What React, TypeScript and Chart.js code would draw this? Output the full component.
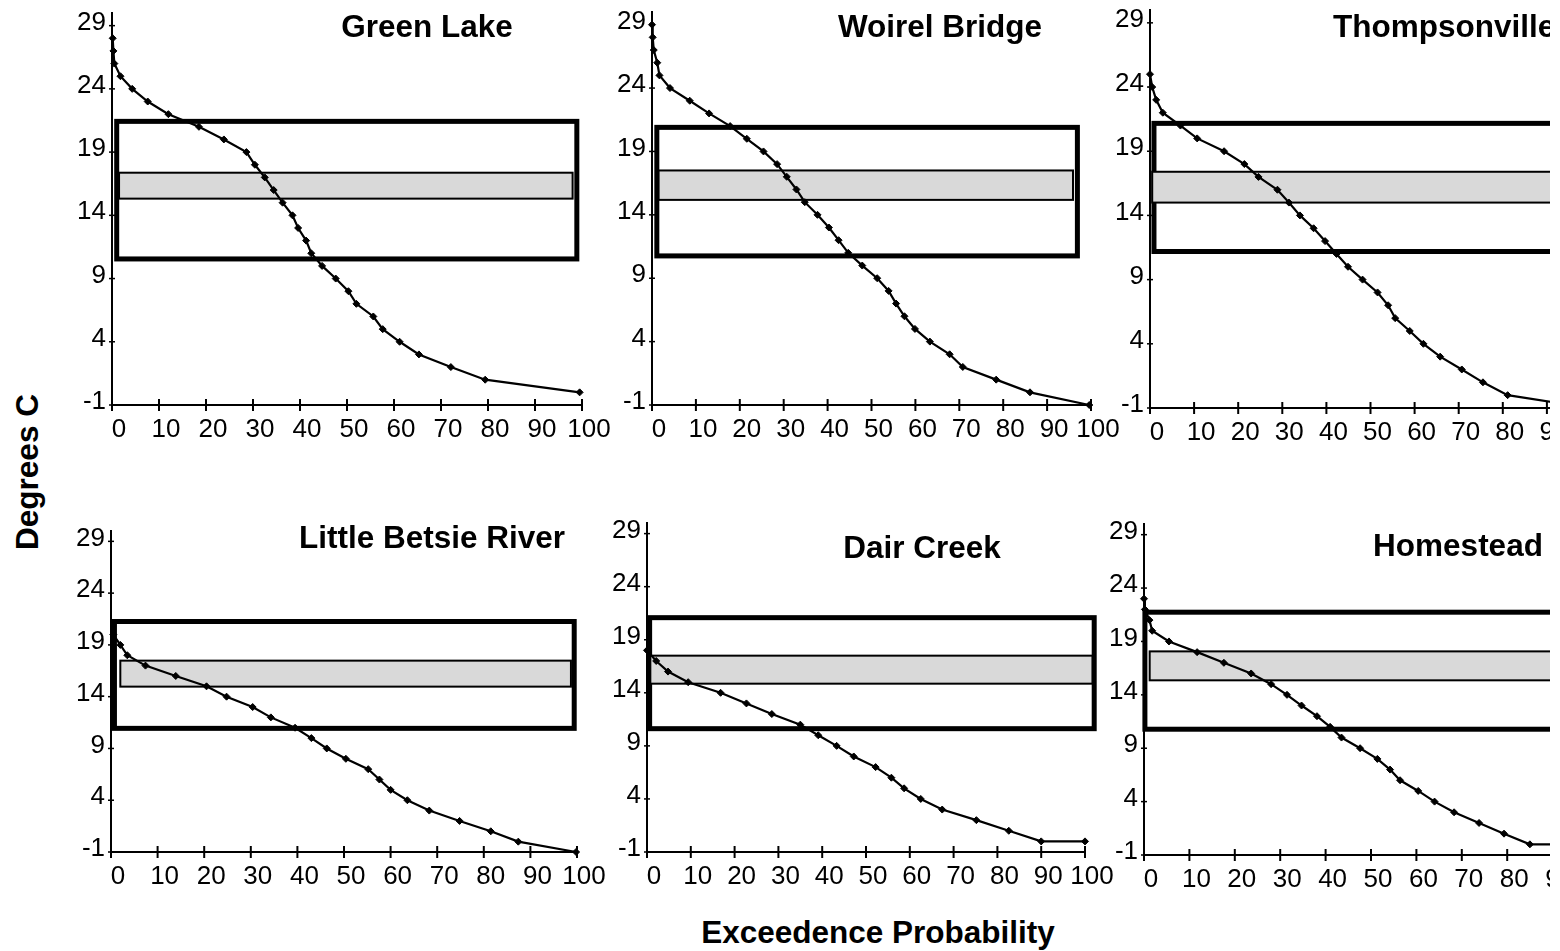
import React, { useEffect, useRef } from "react";
import { Chart, registerables } from "chart.js";

Chart.register(...registerables);

// ---------- tick labels ----------
const xTickValues = [0, 10, 20, 30, 40, 50, 60, 70, 80, 90, 100];
const yTickValues = [-1, 4, 9, 14, 19, 24, 29];

// ---------- series (temperature in °C vs exceedence probability %) ----------
const greenLakeTemp = [28, 27, 26, 25, 24, 23, 22, 21, 20, 19, 18, 17, 16, 15, 14, 13, 12, 11, 10, 9, 8, 7, 6, 5, 4, 3, 2, 1, 0];
const greenLakeProb = [0.15, 0.3, 0.5, 1.8, 4.3, 7.6, 12.0, 18.5, 23.8, 28.6, 30.4, 32.5, 34.4, 36.3, 38.4, 39.6, 41.3, 42.4, 44.7, 47.6, 50.3, 52.0, 55.6, 57.6, 61.2, 65.3, 72.1, 79.4, 99.5];

const woirelTemp = [29, 28, 27, 26, 25, 24, 23, 22, 21, 20, 19, 18, 17, 16, 15, 14, 13, 12, 11, 10, 9, 8, 7, 6, 5, 4, 3, 2, 1, 0, -1];
const woirelProb = [0, 0.16, 0.4, 1.2, 1.7, 4.1, 8.6, 13.0, 17.8, 21.6, 25.4, 28.5, 30.7, 32.9, 34.8, 37.7, 40.3, 42.5, 44.7, 47.9, 51.3, 53.9, 55.6, 57.5, 59.9, 63.3, 67.8, 70.8, 78.4, 86.1, 99.6];

const thompTemp = [25, 24, 23, 22, 21, 20, 19, 18, 17, 16, 15, 14, 13, 12, 11, 10, 9, 8, 7, 6, 5, 4, 3, 2, 1, 0, -1];
const thompProb = [0, 0.5, 1.4, 2.9, 6.9, 10.7, 16.8, 21.4, 24.6, 28.9, 31.5, 34.0, 37.1, 39.7, 42.3, 44.9, 48.2, 51.6, 54.0, 55.6, 58.9, 62.0, 65.8, 70.7, 75.5, 81.1, 99.8];

const betsieTemp = [20, 19, 18, 17, 16, 15, 14, 13, 12, 11, 10, 9, 8, 7, 6, 5, 4, 3, 2, 1, 0, -1];
const betsieProb = [0.5, 2.0, 3.5, 7.4, 13.9, 20.5, 24.8, 30.4, 34.3, 39.5, 43.0, 46.3, 50.4, 55.2, 57.6, 60.0, 63.6, 68.3, 74.8, 81.5, 87.4, 99.8];

const dairTemp = [18, 17, 16, 15, 14, 13, 12, 11, 10, 9, 8, 7, 6, 5, 4, 3, 2, 1, 0, 0];
const dairProb = [0, 2.1, 4.8, 9.4, 16.8, 22.7, 28.5, 35.0, 39.1, 43.3, 47.2, 52.2, 55.8, 58.7, 62.5, 67.4, 75.2, 82.6, 90.0, 100];

const homesteadTemp = [23, 22, 21, 20, 19, 18, 17, 16, 15, 14, 13, 12, 11, 10, 9, 8, 7, 6, 5, 4, 3, 2, 1, 0, 0];
const homesteadProb = [0, 0.2, 1.2, 1.8, 5.5, 11.7, 17.6, 23.6, 28.0, 31.5, 34.7, 38.1, 41.0, 43.5, 47.6, 51.4, 54.2, 56.4, 60.4, 64.0, 68.3, 73.8, 79.3, 85.0, 100];

// ---------- ranges: [xStart, xEnd, yLow, yHigh] ----------
const greenLakeBox = [1.0, 98.9, 10.55, 21.43];
const greenLakeBand = [1.5, 98.0, 15.32, 17.37];
const woirelBox = [1.1, 96.9, 10.76, 20.9];
const woirelBand = [1.5, 95.9, 15.18, 17.5];
const thompBox = [0.9, 99.0, 11.19, 21.17];
const thompBand = [0.5, 98.0, 15.0, 17.4];
const betsieBox = [0.74, 99.4, 10.94, 21.26];
const betsieBand = [2.0, 98.7, 14.97, 17.48];
const dairBox = [0.6, 102.1, 10.62, 21.08];
const dairBand = [0.76, 101.7, 14.86, 17.5];
const homesteadBox = [0.2, 99.0, 10.78, 21.74];
const homesteadBand = [1.25, 98.0, 15.36, 18.07];

const titles = ["Green Lake", "Woirel Bridge", "Thompsonville", "Little Betsie River", "Dair Creek", "Homestead"];

// ---------- layout (pixels) ----------
const FONT = "'Liberation Sans', Arial, Helvetica, sans-serif";
const YW = 60;
const PT = 30;
const PR = 50;
const XH = 50;

type Frame = { L: number; R: number; T: number; B: number };
type TitlePos = { x: number; y: number; align: "center" | "left" };

const frames: Frame[] = [
  { L: 112, R: 582, T: 13, B: 405 },
  { L: 652, R: 1091, T: 12, B: 405 },
  { L: 1150, R: 1591, T: 10, B: 408 },
  { L: 111, R: 577, T: 531, B: 852 },
  { L: 647, R: 1085, T: 523, B: 852 },
  { L: 1144, R: 1598, T: 524, B: 855 },
];

const titlePositions: TitlePos[] = [
  { x: 427, y: 27, align: "center" },
  { x: 940, y: 27, align: "center" },
  { x: 1333, y: 27, align: "left" },
  { x: 432, y: 538, align: "center" },
  { x: 922, y: 548, align: "center" },
  { x: 1458, y: 546, align: "center" },
];

const panels = [
  { temps: greenLakeTemp, probs: greenLakeProb, box: greenLakeBox, band: greenLakeBand },
  { temps: woirelTemp, probs: woirelProb, box: woirelBox, band: woirelBand },
  { temps: thompTemp, probs: thompProb, box: thompBox, band: thompBand },
  { temps: betsieTemp, probs: betsieProb, box: betsieBox, band: betsieBand },
  { temps: dairTemp, probs: dairProb, box: dairBox, band: dairBand },
  { temps: homesteadTemp, probs: homesteadProb, box: homesteadBox, band: homesteadBand },
];

const rangePlugin = {
  id: "ranges",
  beforeDatasetsDraw(chart: any, _args: any, opts: any) {
    const { ctx, chartArea } = chart;
    const x = chart.scales.x;
    const y = chart.scales.y;
    ctx.save();
    ctx.strokeStyle = "#000";
    ctx.lineWidth = 2;
    xTickValues.forEach((v) => {
      const px = x.getPixelForValue(v);
      ctx.beginPath();
      ctx.moveTo(px, chartArea.bottom - 6);
      ctx.lineTo(px, chartArea.bottom + 6);
      ctx.stroke();
    });
    ctx.lineWidth = 1.5;
    yTickValues.forEach((v) => {
      const py = y.getPixelForValue(v);
      ctx.beginPath();
      ctx.moveTo(chartArea.left - 3, py);
      ctx.lineTo(chartArea.left + 3, py);
      ctx.stroke();
    });
    const rect = (r: number[], fill: string | null, lw: number) => {
      const x0 = x.getPixelForValue(r[0]);
      const x1 = x.getPixelForValue(r[1]);
      const y0 = y.getPixelForValue(r[2]);
      const y1 = y.getPixelForValue(r[3]);
      if (fill) {
        ctx.fillStyle = fill;
        ctx.fillRect(x0, y1, x1 - x0, y0 - y1);
      }
      ctx.lineWidth = lw;
      ctx.strokeStyle = "#000";
      ctx.lineJoin = "miter";
      ctx.strokeRect(x0, y1, x1 - x0, y0 - y1);
    };
    rect(opts.box, null, 5);
    rect(opts.band, "#d9d9d9", 2);
    ctx.restore();
  },
};

function PanelChart({ index }: { index: number }) {
  const ref = useRef<HTMLCanvasElement | null>(null);
  const f = frames[index];
  const p = panels[index];
  const w = YW + (f.R - f.L) + PR;
  const h = PT + (f.B - f.T) + XH;

  useEffect(() => {
    if (!ref.current) return;
    const chart = new Chart(ref.current, {
      type: "line",
      data: {
        datasets: [
          {
            data: p.probs.map((v, i) => ({ x: v, y: p.temps[i] })),
            borderColor: "#000",
            borderWidth: 2.2,
            pointStyle: "rectRot",
            pointRadius: 3.5,
            pointBackgroundColor: "#000",
            pointBorderColor: "#000",
            pointBorderWidth: 1,
            tension: 0,
            fill: false,
            clip: false as any,
          },
        ],
      },
      options: {
        animation: false,
        responsive: false,
        maintainAspectRatio: false,
        devicePixelRatio: 1,
        events: [],
        layout: { padding: { left: 0, top: PT, right: PR, bottom: 0 } },
        plugins: {
          legend: { display: false },
          tooltip: { enabled: false },
          ranges: { box: p.box, band: p.band },
        } as any,
        scales: {
          x: {
            type: "linear",
            min: 0,
            max: 100,
            afterBuildTicks: (s: any) => {
              s.ticks = xTickValues.map((v) => ({ value: v }));
            },
            afterFit: (s: any) => {
              s.height = XH;
            },
            grid: { display: false, drawTicks: false },
            border: { display: true, color: "#000", width: 2 },
            ticks: {
              autoSkip: false,
              maxRotation: 0,
              minRotation: 0,
              padding: 9,
              labelOffset: 7,
              color: "#000",
              font: { family: FONT, size: 26 },
              callback: (v: any) => String(v),
            },
          },
          y: {
            type: "linear",
            min: -1,
            max: 30,
            afterBuildTicks: (s: any) => {
              s.ticks = yTickValues.map((v) => ({ value: v }));
            },
            afterFit: (s: any) => {
              s.width = YW;
            },
            grid: { display: false, drawTicks: false },
            border: { display: true, color: "#000", width: 2 },
            ticks: {
              autoSkip: false,
              padding: 6,
              labelOffset: -3,
              color: "#000",
              font: { family: FONT, size: 26 },
              callback: (v: any) => String(v),
            },
          },
        },
      },
      plugins: [rangePlugin],
    });
    return () => chart.destroy();
  }, [index]);

  return (
    <canvas
      ref={ref}
      width={w}
      height={h}
      style={{ position: "absolute", left: f.L - YW, top: f.T - PT, width: w, height: h }}
    />
  );
}

export default function App() {
  return (
    <div
      style={{
        position: "fixed",
        left: 0,
        top: 0,
        width: 1550,
        height: 951,
        overflow: "hidden",
        background: "#fff",
        fontFamily: FONT,
      }}
    >
      {panels.map((_, i) => (
        <PanelChart key={i} index={i} />
      ))}
      {titles.map((t, i) => {
        const tp = titlePositions[i];
        return (
          <div
            key={t}
            style={{
              position: "absolute",
              left: tp.x,
              top: tp.y,
              transform: tp.align === "center" ? "translate(-50%, -50%)" : "translate(0, -50%)",
              fontWeight: "bold",
              fontSize: 31.5,
              lineHeight: 1,
              whiteSpace: "nowrap",
              color: "#000",
            }}
          >
            {t}
          </div>
        );
      })}
      <div
        style={{
          position: "absolute",
          left: 28,
          top: 472,
          transform: "translate(-50%, -50%) rotate(-90deg)",
          fontWeight: "bold",
          fontSize: 31.5,
          lineHeight: 1,
          whiteSpace: "nowrap",
        }}
      >
        Degrees C
      </div>
      <div
        style={{
          position: "absolute",
          left: 878,
          top: 933,
          transform: "translate(-50%, -50%)",
          fontWeight: "bold",
          fontSize: 31.5,
          lineHeight: 1,
          whiteSpace: "nowrap",
        }}
      >
        Exceedence Probability
      </div>
    </div>
  );
}
